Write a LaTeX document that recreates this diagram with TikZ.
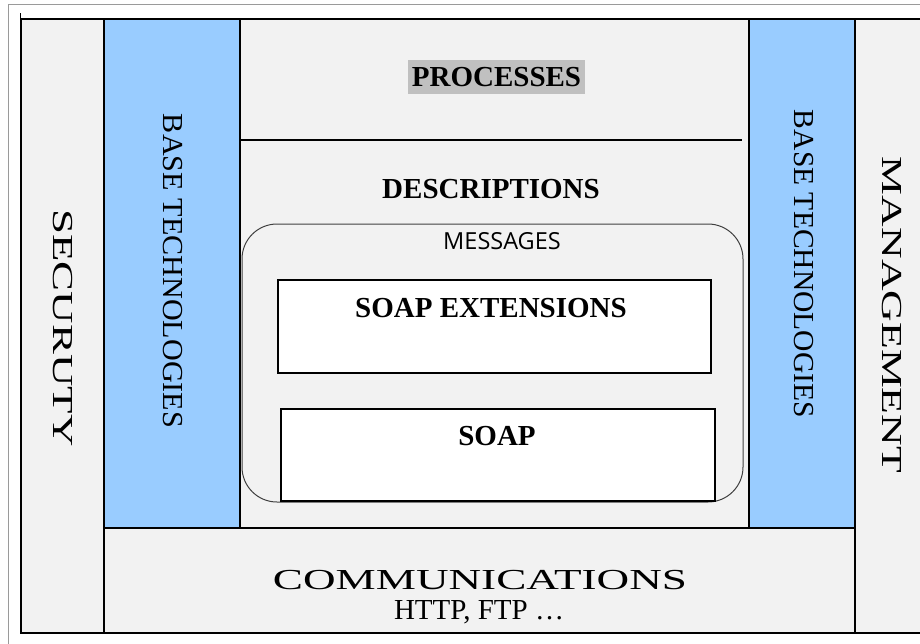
\documentclass[tikz,border=0pt]{standalone}
\usepackage{fontspec}
\usepackage{graphicx}
\setmainfont{Liberation Serif}
\newfontfamily\msgfont{Open Sans}
\definecolor{panelgray}{HTML}{F2F2F2}
\definecolor{baseblue}{HTML}{99CCFF}
\definecolor{hlgray}{HTML}{C0C0C0}
\definecolor{framegray}{HTML}{9A9A9A}
\newcommand\bigtxt{\fontsize{29}{34}\selectfont}
\tikzset{
  panel/.style={draw=black, line width=1.3pt, fill=panelgray, inner sep=0pt, outer sep=0pt, anchor=north west},
  bluepanel/.style={panel, fill=baseblue},
  whitebox/.style={panel, fill=white},
  msgbox/.style={draw=black!75, line width=1pt, rounded corners=35pt, inner sep=0pt, outer sep=0pt, anchor=north west},
  label/.style={inner sep=0pt, font=\bigtxt},
  boldlabel/.style={label, font=\bigtxt\bfseries},
  vlabel/.style={label, rotate=-90},
}
\begin{document}
\begin{tikzpicture}[x=1pt, y=-1pt]
\useasboundingbox (0,0) rectangle (920,643);
\clip (0,0) rectangle (920,643);
% outer page frame
\node[draw=framegray, line width=0.8pt, inner sep=0pt, anchor=north west, minimum width=930pt, minimum height=650pt] (page) at (8,4) {};
\coordinate (tickA) at (20,13);
\coordinate (tickB) at (20,19);
\draw[line width=1pt] (tickA) -- (tickB);
% main columns
\node[panel, minimum width=914pt, minimum height=614pt] (frame) at (21,19) {};
\node[panel, minimum width=83pt, minimum height=614pt] (secur) at (21,19) {};
\node[panel, minimum width=80pt, minimum height=614pt] (mgmt) at (855,19) {};
\node[panel, minimum width=751pt, minimum height=105pt] (comm) at (104,528) {};
\node[bluepanel, minimum width=136pt, minimum height=509pt] (baseL) at (104,19) {};
\node[panel, minimum width=509pt, minimum height=509pt] (center) at (240,19) {};
\node[bluepanel, minimum width=106pt, minimum height=509pt] (baseR) at (749,19) {};
% separator under processes
\coordinate (sepL) at (240,140);
\coordinate (sepR) at (742,140);
\draw[line width=1.2pt] (sepL) -- (sepR);
% messages group
\node[msgbox, minimum width=501pt, minimum height=278pt] (msgs) at (242,224) {};
\node[whitebox, minimum width=433pt, minimum height=93pt] (soapext) at (278,280) {};
\node[whitebox, minimum width=434pt, minimum height=92pt] (soap) at (281,409) {};
% texts
\node[boldlabel, fill=hlgray, minimum width=177pt, minimum height=34pt] (proc) at (496.5,77) {PROCESSES};
\node[boldlabel] (desc) at (491,189) {DESCRIPTIONS};
\node[inner sep=0pt, font=\msgfont\fontsize{23.5}{26}\selectfont] (msgtxt) at (502,241) {MESSAGES};
\node[boldlabel] (soapexttxt) at (491,308) {SOAP EXTENSIONS};
\node[boldlabel] (soaptxt) at (497,436) {SOAP};
\node[label] (commtxt) at (480,580) {\resizebox{414pt}{\height}{COMMUNICATIONS}};
\node[label] (httptxt) at (479,612) {HTTP, FTP \ldots};
\node[vlabel] (securtxt) at (63,328) {\resizebox{237pt}{\height}{SECURUTY}};
\node[vlabel] (mgmttxt) at (892,315) {\resizebox{316pt}{\height}{MANAGEMENT}};
\node[vlabel] (baseLtxt) at (173,271) {\resizebox{314pt}{\height}{BASE TECHNOLOGIES}};
\node[vlabel] (baseRtxt) at (804,264) {\resizebox{308pt}{\height}{BASE TECHNOLOGIES}};
\end{tikzpicture}
\end{document}
